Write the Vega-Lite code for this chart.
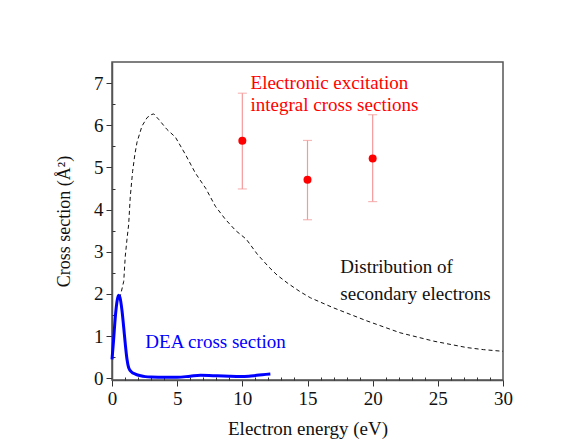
{
  "$schema": "https://vega.github.io/schema/vega-lite/v6.json",
  "width": 391,
  "height": 318,
  "autosize": {"type": "none"},
  "padding": {"left": 112, "top": 62, "right": 77, "bottom": 66},
  "background": "white",
  "config": {
    "view": {"stroke": "#555", "strokeWidth": 1.5},
    "axis": {
      "labelFont": "'Liberation Serif', 'Times New Roman', serif", "titleFont": "'Liberation Serif', 'Times New Roman', serif",
      "labelFontSize": 19, "titleFontSize": 19, "titleFontWeight": "normal",
      "labelColor": "#111", "titleColor": "#111",
      "domainColor": "#555", "domainWidth": 1.5, "tickColor": "#333", "grid": false,
      "labelOverlap": false, "labelFlush": false
    }
  },
  "resolve": {"axis": {"x": "independent", "y": "independent"}},
  "layer": [
    {
      "data": {"values": [
        {"energy": 0.6, "y": 1.9}, {"energy": 0.9, "y": 2.3}, {"energy": 1.02, "y": 2.9},
        {"energy": 1.15, "y": 3.3}, {"energy": 1.28, "y": 3.65}, {"energy": 1.4, "y": 4.3},
        {"energy": 1.58, "y": 4.9}, {"energy": 1.75, "y": 5.3}, {"energy": 1.92, "y": 5.6},
        {"energy": 2.3, "y": 5.98}, {"energy": 2.69, "y": 6.18}, {"energy": 3.0, "y": 6.25},
        {"energy": 3.2, "y": 6.27}, {"energy": 3.58, "y": 6.14}, {"energy": 4.22, "y": 5.9},
        {"energy": 4.86, "y": 5.72}, {"energy": 5.63, "y": 5.31}, {"energy": 6.39, "y": 4.87},
        {"energy": 7.2, "y": 4.5}, {"energy": 7.93, "y": 4.08}, {"energy": 8.7, "y": 3.77},
        {"energy": 9.5, "y": 3.5}, {"energy": 10.3, "y": 3.3}, {"energy": 11.13, "y": 2.95},
        {"energy": 12.0, "y": 2.65}, {"energy": 12.66, "y": 2.45}, {"energy": 13.5, "y": 2.25},
        {"energy": 14.45, "y": 2.05}, {"energy": 15.22, "y": 1.91}, {"energy": 17.0, "y": 1.67},
        {"energy": 19.57, "y": 1.36}, {"energy": 22.1, "y": 1.08}, {"energy": 24.7, "y": 0.88},
        {"energy": 27.2, "y": 0.73}, {"energy": 28.5, "y": 0.68}, {"energy": 30, "y": 0.64}
      ]},
      "mark": {"type": "line", "strokeDash": [4, 3], "strokeWidth": 1, "color": "#111"},
      "encoding": {
        "x": {
          "field": "energy", "type": "quantitative",
          "scale": {"domain": [0, 30], "nice": false, "zero": false},
          "axis": {
            "orient": "bottom", "title": "Electron energy (eV)",
            "values": [0, 5, 10, 15, 20, 25, 30],
            "tickSize": 6, "labelPadding": 3, "titlePadding": 11
          }
        },
        "y": {
          "field": "y", "type": "quantitative",
          "scale": {"domain": [-0.04, 7.5], "nice": false, "zero": false},
          "axis": {
            "orient": "left", "title": "Cross section (Å²)", "titleFontSize": 18,
            "values": [0, 1, 2, 3, 4, 5, 6, 7],
            "tickSize": 6, "labelPadding": 3, "titlePadding": 20
          }
        }
      }
    },
    {
      "data": {"values": [
        {"energy": 0, "y": 0.45}, {"energy": 0.12, "y": 0.9}, {"energy": 0.25, "y": 1.44},
        {"energy": 0.4, "y": 1.85}, {"energy": 0.5, "y": 1.97}, {"energy": 0.6, "y": 1.93},
        {"energy": 0.77, "y": 1.6}, {"energy": 0.9, "y": 1.2}, {"energy": 1.02, "y": 0.81},
        {"energy": 1.15, "y": 0.45}, {"energy": 1.28, "y": 0.25}, {"energy": 1.5, "y": 0.15},
        {"energy": 1.79, "y": 0.1}, {"energy": 2.2, "y": 0.06}, {"energy": 2.55, "y": 0.04},
        {"energy": 3, "y": 0.03}, {"energy": 4.1, "y": 0.025}, {"energy": 5, "y": 0.025},
        {"energy": 6, "y": 0.05}, {"energy": 6.8, "y": 0.07}, {"energy": 8.06, "y": 0.06},
        {"energy": 9, "y": 0.05}, {"energy": 9.85, "y": 0.045}, {"energy": 10.5, "y": 0.05},
        {"energy": 11.1, "y": 0.07}, {"energy": 12.15, "y": 0.1}
      ]},
      "mark": {"type": "line", "strokeWidth": 3, "color": "#0000ff", "interpolate": "monotone"},
      "encoding": {
        "x": {
          "field": "energy", "type": "quantitative",
          "scale": {"domain": [0, 30], "nice": false, "zero": false},
          "axis": {
            "orient": "bottom", "title": null, "labels": false, "domain": false,
            "values": [1,2,3,4,6,7,8,9,11,12,13,14,16,17,18,19,21,22,23,24,26,27,28,29],
            "tickSize": -3
          }
        },
        "y": {
          "field": "y", "type": "quantitative",
          "scale": {"domain": [-0.04, 7.5], "nice": false, "zero": false},
          "axis": {
            "orient": "left", "title": null, "labels": false, "domain": false,
            "values": [0.5, 1.5, 2.5, 3.5, 4.5, 5.5, 6.5],
            "tickSize": -3
          }
        }
      }
    },
    {
      "data": {"values": [
        {"energy": 10, "y": 5.63, "lo": 4.49, "hi": 6.76},
        {"energy": 15, "y": 4.71, "lo": 3.76, "hi": 5.64},
        {"energy": 20, "y": 5.21, "lo": 4.19, "hi": 6.25}
      ]},
      "layer": [
        {
          "mark": {"type": "rule", "color": "#f59a9a", "strokeWidth": 1.2},
          "encoding": {
            "x": {"field": "energy", "type": "quantitative", "scale": {"domain": [0, 30], "nice": false, "zero": false}, "axis": null},
            "y": {"field": "lo", "type": "quantitative", "scale": {"domain": [-0.04, 7.5], "nice": false, "zero": false}, "axis": null},
            "y2": {"field": "hi"}
          }
        },
        {
          "mark": {"type": "tick", "orient": "horizontal", "color": "#f59a9a", "thickness": 1.2, "size": 9},
          "encoding": {
            "x": {
              "field": "energy", "type": "quantitative", "scale": {"domain": [0, 30], "nice": false, "zero": false},
              "axis": {
                "orient": "top", "title": null, "labels": false, "domain": false,
                "values": [1,2,3,4,6,7,8,9,11,12,13,14,16,17,18,19,21,22,23,24,26,27,28,29],
                "tickSize": -3
              }
            },
            "y": {"field": "lo", "type": "quantitative", "scale": {"domain": [-0.04, 7.5], "nice": false, "zero": false}, "axis": null}
          }
        },
        {
          "mark": {"type": "tick", "orient": "horizontal", "color": "#f59a9a", "thickness": 1.2, "size": 9},
          "encoding": {
            "x": {"field": "energy", "type": "quantitative", "scale": {"domain": [0, 30], "nice": false, "zero": false}, "axis": null},
            "y": {"field": "hi", "type": "quantitative", "scale": {"domain": [-0.04, 7.5], "nice": false, "zero": false}, "axis": null}
          }
        },
        {
          "mark": {"type": "circle", "color": "#ff0000", "opacity": 1, "size": 64},
          "encoding": {
            "x": {
              "field": "energy", "type": "quantitative", "scale": {"domain": [0, 30], "nice": false, "zero": false},
              "axis": {
                "orient": "top", "title": null, "labels": false,
                "values": [0, 5, 10, 15, 20, 25, 30],
                "tickSize": -6
              }
            },
            "y": {"field": "y", "type": "quantitative", "scale": {"domain": [-0.04, 7.5], "nice": false, "zero": false}, "axis": null}
          }
        }
      ]
    },
    {
      "data": {"values": [
        {"energy": 10.63, "y": 7.0, "label": "Electronic excitation", "group": "excitation"},
        {"energy": 10.63, "y": 6.47, "label": "integral cross sections", "group": "excitation"},
        {"energy": 17.52, "y": 2.63, "label": "Distribution of", "group": "secondary"},
        {"energy": 17.52, "y": 2.01, "label": "secondary electrons", "group": "secondary"},
        {"energy": 2.56, "y": 0.85, "label": "DEA cross section", "group": "dea"}
      ]},
      "mark": {"type": "text", "align": "left", "baseline": "middle", "font": "'Liberation Serif', 'Times New Roman', serif", "fontSize": 19},
      "encoding": {
        "x": {"field": "energy", "type": "quantitative", "scale": {"domain": [0, 30], "nice": false, "zero": false}, "axis": null},
        "y": {"field": "y", "type": "quantitative", "scale": {"domain": [-0.04, 7.5], "nice": false, "zero": false}, "axis": null},
        "text": {"field": "label"},
        "color": {"field": "group", "type": "nominal", "scale": {"domain": ["excitation", "secondary", "dea"], "range": ["#ff0000", "#111111", "#0000ff"]}, "legend": null}
      }
    }
  ]
}
